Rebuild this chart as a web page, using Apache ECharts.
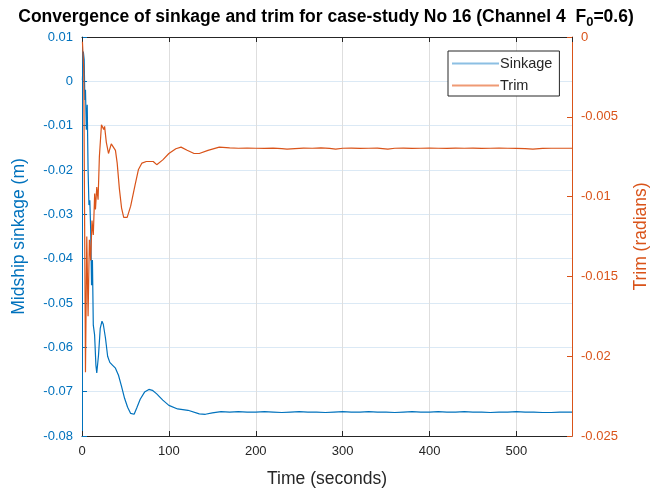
<!DOCTYPE html>
<html>
<head>
<meta charset="utf-8">
<script src="https://cdn.jsdelivr.net/npm/echarts@6/dist/echarts.min.js"></script>
<style>
  html, body { margin: 0; padding: 0; background: #fff; }
  #chart { width: 652px; height: 490px; }
</style>
</head>
<body>
<div id="chart"></div>
<script>
// Time stamps (s) and midship sinkage (m)
const sinkTime = [0.5, 1.5, 2.5, 3.3, 4, 5, 6, 7, 8, 9, 10, 11, 12, 13, 14.5, 16, 17, 19, 21, 23, 24.5,
  27, 29.5, 32, 35, 38.5, 42, 45.5, 49, 52.5, 56, 60, 63, 67, 72, 77, 81, 86, 93, 100, 110, 122, 135,
  142, 150, 160, 170, 180, 190, 200, 210, 220, 230, 240, 250, 260, 270, 280, 290, 300, 310, 320, 330,
  340, 350, 360, 370, 380, 390, 400, 410, 420, 430, 440, 450, 460, 470, 480, 490, 500, 510, 520, 530,
  540, 550, 564];
const sinkage = [0.0003, 0.0067, 0.0049, -0.0042, -0.0019, -0.0109, -0.0053, -0.0200, -0.0279, -0.0268,
  -0.0335, -0.0460, -0.0403, -0.0550, -0.0572, -0.0640, -0.0658, -0.0618, -0.0557, -0.0541, -0.0548,
  -0.0579, -0.0620, -0.0634, -0.0640, -0.0647, -0.0663, -0.0688, -0.0715, -0.0735, -0.0749, -0.0751,
  -0.0737, -0.0717, -0.0701, -0.0695, -0.0697, -0.0705, -0.0719, -0.0731, -0.0739, -0.0742, -0.0750,
  -0.0751, -0.0748, -0.0745, -0.0746, -0.0745, -0.0746, -0.0746, -0.0745, -0.0746, -0.0747, -0.0746,
  -0.0745, -0.0746, -0.0746, -0.0747, -0.0746, -0.0745, -0.0746, -0.0746, -0.0745, -0.0746, -0.0746,
  -0.0747, -0.0746, -0.0745, -0.0746, -0.0746, -0.0745, -0.0746, -0.0746, -0.0745, -0.0746, -0.0746,
  -0.0747, -0.0746, -0.0746, -0.0745, -0.0746, -0.0746, -0.0747, -0.0747, -0.0746, -0.0746];

// Time stamps (s) and trim (radians)
const trimTime = [0.5, 2, 4, 5.5, 7, 8.5, 10, 11.5, 13, 14.6, 15.5, 17, 18.5, 20, 22.4, 23.5, 25, 26,
  28, 30.5, 33.7, 36, 38.5, 40.5, 43, 45.5, 48, 52, 56, 61, 65, 69, 74, 78, 82, 86, 93, 100, 108, 114,
  121, 129, 135, 145, 158, 170, 180, 190, 200, 210, 220, 230, 236, 245, 255, 265, 275, 285, 292, 300,
  310, 320, 330, 340, 352, 360, 370, 380, 390, 400, 410, 420, 430, 440, 450, 460, 470, 480, 490, 500,
  510, 519, 530, 540, 550, 564];
const trim = [-0.0003, -0.0020, -0.0210, -0.0125, -0.0175, -0.0127, -0.0140, -0.0115, -0.0124,
  -0.0098, -0.0108, -0.0094, -0.0102, -0.0075, -0.0055, -0.0054, -0.0058, -0.0056, -0.0066, -0.0073,
  -0.0067, -0.0067, -0.0071, -0.0079, -0.0095, -0.0107, -0.0113, -0.0113, -0.0106, -0.0093, -0.0083,
  -0.0079, -0.0078, -0.0078, -0.0078, -0.0080, -0.0077, -0.0073, -0.0070, -0.0069, -0.0071, -0.0073,
  -0.0073, -0.0071, -0.00690, -0.00695, -0.00697, -0.00696, -0.00697, -0.00698, -0.00696, -0.00700,
  -0.00703, -0.00699, -0.00696, -0.00697, -0.00695, -0.00698, -0.00702, -0.00697, -0.00696, -0.00698,
  -0.00697, -0.00696, -0.00702, -0.00697, -0.00696, -0.00698, -0.00697, -0.00696, -0.00697, -0.00698,
  -0.00696, -0.00697, -0.00696, -0.00698, -0.00697, -0.00696, -0.00697, -0.00698, -0.00699, -0.00703,
  -0.00698, -0.00697, -0.00697, -0.00697];

const BLUE = '#0072BD';
const ORANGE = '#D95319';
const INK = '#262626';
const FONT = '"Liberation Sans", Arial, sans-serif';

const fmt = v => String(parseFloat(v.toFixed(4)));

const chart = echarts.init(document.getElementById('chart'), null, { renderer: 'canvas' });

chart.setOption({
  animation: false,
  backgroundColor: '#fff',
  textStyle: { fontFamily: FONT },
  title: {
    text: 'Convergence of sinkage and trim for case-study No 16 (Channel 4  F{sub|0}=0.6)',
    left: 'center',
    top: 1,
    textStyle: {
      fontFamily: FONT, fontSize: 17.5, fontWeight: 'bold', color: '#000',
      rich: { sub: { fontFamily: FONT, fontSize: 13, fontWeight: 'bold', color: '#000', padding: [10, 0, 0, 0] } }
    }
  },
  legend: {
    orient: 'vertical',
    left: 448, top: 51,
    padding: [5, 7, 3, 4],
    itemGap: 7,
    itemWidth: 47, itemHeight: 2,
    icon: 'rect',
    borderColor: INK, borderWidth: 1,
    backgroundColor: '#fff',
    textStyle: { fontFamily: FONT, fontSize: 14.5, color: INK, padding: [0, 0, 0, -4] },
    data: [
      { name: 'Sinkage', itemStyle: { color: '#8cbfe3' } },
      { name: 'Trim', itemStyle: { color: '#ef9a74' } }
    ]
  },
  grid: { left: 82, right: 80, top: 37, bottom: 54, containLabel: false, outerBoundsMode: 'none' },
  xAxis: [{
    type: 'value', min: 0, max: 564, interval: 100,
    name: 'Time (seconds)', nameLocation: 'middle', nameGap: 34,
    nameTextStyle: { fontFamily: FONT, fontSize: 17.5, color: INK },
    axisLine: { onZero: false, lineStyle: { color: INK, width: 1 } },
    axisTick: { inside: true, length: 5, lineStyle: { color: INK } },
    axisLabel: { fontFamily: FONT, fontSize: 13, color: INK, margin: 9, showMaxLabel: false,
      formatter: v => (v % 100 === 0 ? String(v) : '') },
    splitLine: { show: true, lineStyle: { color: '#dedede', width: 1 } }
  }, {
    type: 'value', position: 'top', min: 0, max: 564, interval: 100,
    axisLine: { show: true, onZero: false, lineStyle: { color: INK, width: 1 } },
    axisTick: { show: true, inside: true, length: 5, lineStyle: { color: INK } },
    axisLabel: { show: false },
    splitLine: { show: false }
  }],
  yAxis: [{
    type: 'value', position: 'left', min: -0.08, max: 0.01, interval: 0.01,
    name: 'Midship sinkage (m)', nameLocation: 'middle', nameGap: 54,
    nameTextStyle: { fontFamily: FONT, fontSize: 17.5, color: BLUE },
    axisLine: { show: true, onZero: false, lineStyle: { color: BLUE, width: 1 } },
    axisTick: { show: true, inside: true, length: 5, lineStyle: { color: BLUE } },
    axisLabel: { fontFamily: FONT, fontSize: 13, color: BLUE, margin: 9, formatter: fmt },
    splitLine: { show: true, lineStyle: { color: '#dbe9f5', width: 1 } }
  }, {
    type: 'value', position: 'right', min: -0.025, max: 0, interval: 0.005,
    name: 'Trim (radians)', nameLocation: 'middle', nameGap: 60,
    nameTextStyle: { fontFamily: FONT, fontSize: 17.5, color: ORANGE },
    axisLine: { show: true, onZero: false, lineStyle: { color: ORANGE, width: 1 } },
    axisTick: { show: true, inside: true, length: 5, lineStyle: { color: ORANGE } },
    axisLabel: { fontFamily: FONT, fontSize: 13, color: ORANGE, margin: 9, formatter: fmt },
    splitLine: { show: false }
  }],
  series: [{
    name: 'Sinkage', type: 'line', xAxisIndex: 0, yAxisIndex: 0,
    showSymbol: false, symbol: 'none',
    lineStyle: { color: BLUE, width: 1.2 }, itemStyle: { color: BLUE },
    data: sinkTime.map((t, i) => [t, sinkage[i]])
  }, {
    name: 'Trim', type: 'line', xAxisIndex: 0, yAxisIndex: 1,
    showSymbol: false, symbol: 'none',
    lineStyle: { color: ORANGE, width: 1.2 }, itemStyle: { color: ORANGE },
    data: trimTime.map((t, i) => [t, trim[i]])
  }]
});
</script>
</body>
</html>
